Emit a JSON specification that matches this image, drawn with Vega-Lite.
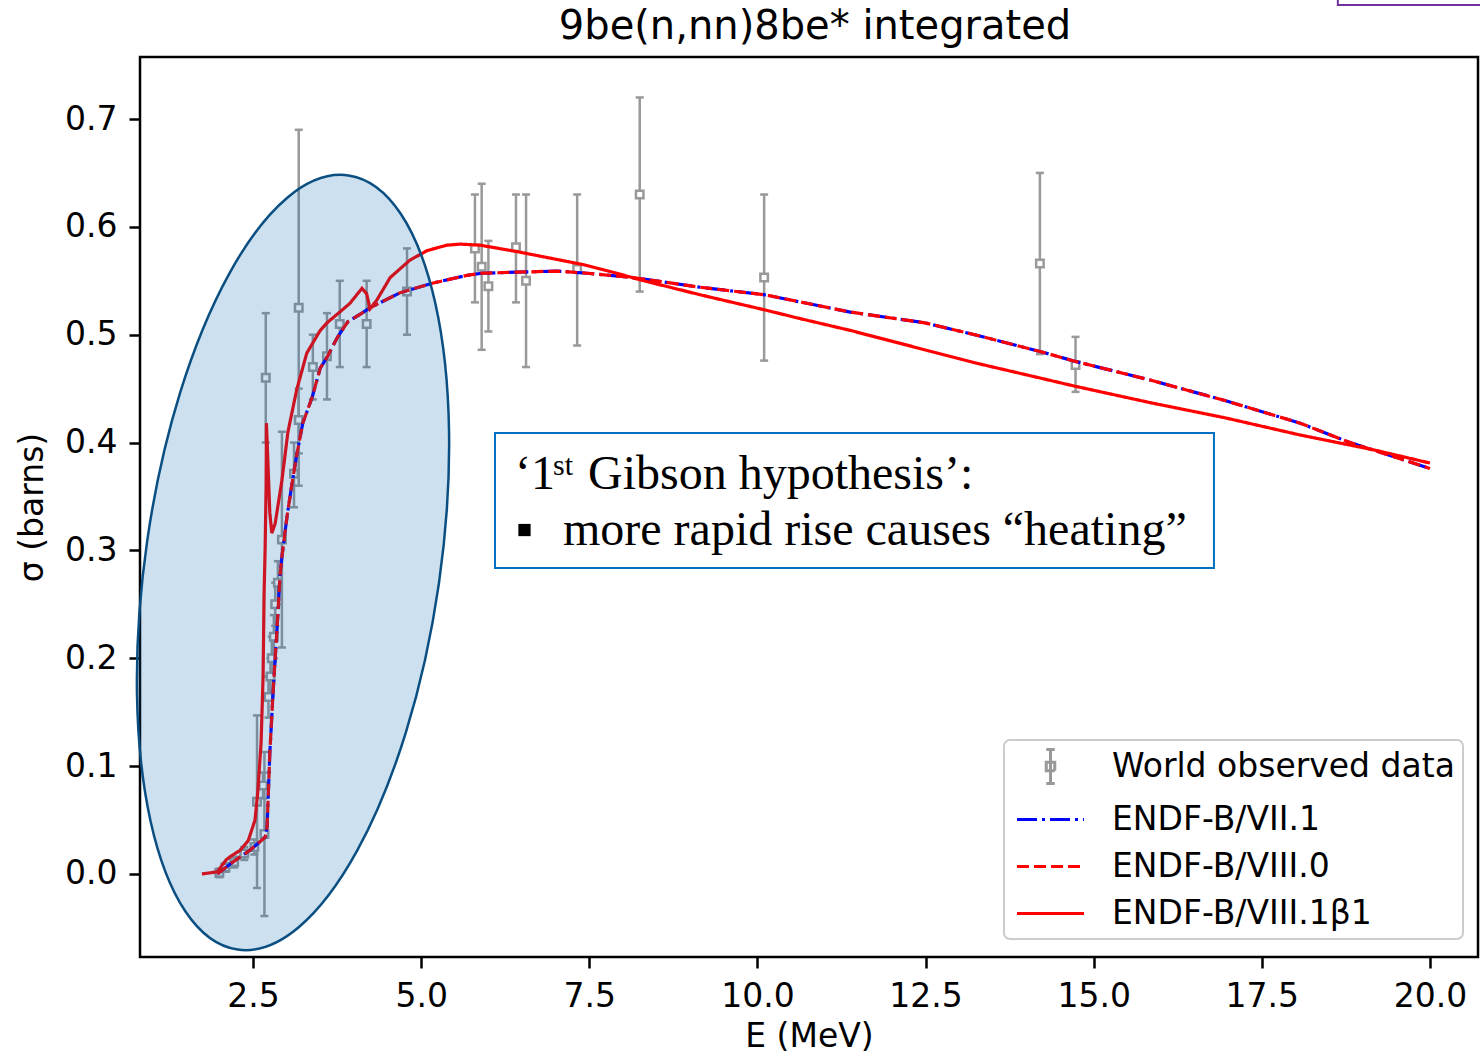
{
  "$schema": "https://vega.github.io/schema/vega-lite/v6.json",
  "width": 1338,
  "height": 900,
  "autosize": {"type": "none"},
  "padding": {"left": 140, "top": 57, "right": 2, "bottom": 98},
  "background": "white",
  "title": {"text": "9be(n,nn)8be* integrated", "font": "DejaVu Sans", "fontSize": 40, "fontWeight": "normal", "color": "black", "baseline": "alphabetic", "offset": -85, "dx": 6},
  "config": {
    "font": "DejaVu Sans",
    "view": {"stroke": "black", "strokeWidth": 2.5},
    "axis": {"domain": false, "grid": false, "ticks": true, "tickColor": "black", "tickWidth": 2.5, "tickSize": 11, "labelFont": "DejaVu Sans", "labelFontSize": 33, "labelColor": "black", "labelPadding": 12, "titleFont": "DejaVu Sans", "titleFontSize": 33, "titleFontWeight": "normal", "titleColor": "black"}
  },
  "datasets": {
    "obs": [
      {"E": 2.00, "s": 0.001, "lo": -0.003, "hi": 0.005},
      {"E": 2.09, "s": 0.006, "lo": 0.002, "hi": 0.010},
      {"E": 2.22, "s": 0.011, "lo": 0.006, "hi": 0.016},
      {"E": 2.37, "s": 0.019, "lo": 0.013, "hi": 0.025},
      {"E": 2.52, "s": 0.025, "lo": 0.018, "hi": 0.032},
      {"E": 2.56, "s": 0.067, "lo": -0.013, "hi": 0.147},
      {"E": 2.65, "s": 0.082, "lo": 0.070, "hi": 0.094},
      {"E": 2.67, "s": 0.037, "lo": -0.039, "hi": 0.113},
      {"E": 2.69, "s": 0.46, "lo": 0.40, "hi": 0.52},
      {"E": 2.73, "s": 0.164, "lo": 0.145, "hi": 0.183},
      {"E": 2.76, "s": 0.183, "lo": 0.165, "hi": 0.20},
      {"E": 2.78, "s": 0.20, "lo": 0.18, "hi": 0.22},
      {"E": 2.81, "s": 0.22, "lo": 0.20, "hi": 0.24},
      {"E": 2.83, "s": 0.25, "lo": 0.23, "hi": 0.27},
      {"E": 2.87, "s": 0.27, "lo": 0.25, "hi": 0.29},
      {"E": 2.93, "s": 0.31, "lo": 0.21, "hi": 0.41},
      {"E": 3.11, "s": 0.371, "lo": 0.34, "hi": 0.40},
      {"E": 3.18, "s": 0.421, "lo": 0.39, "hi": 0.45},
      {"E": 3.18, "s": 0.525, "lo": 0.36, "hi": 0.69},
      {"E": 3.39, "s": 0.47, "lo": 0.44, "hi": 0.50},
      {"E": 3.60, "s": 0.48, "lo": 0.44, "hi": 0.52},
      {"E": 3.79, "s": 0.51, "lo": 0.47, "hi": 0.55},
      {"E": 4.19, "s": 0.51, "lo": 0.47, "hi": 0.55},
      {"E": 4.79, "s": 0.54, "lo": 0.50, "hi": 0.58},
      {"E": 5.80, "s": 0.58, "lo": 0.53, "hi": 0.63},
      {"E": 5.90, "s": 0.563, "lo": 0.486, "hi": 0.64},
      {"E": 6.00, "s": 0.545, "lo": 0.503, "hi": 0.587},
      {"E": 6.41, "s": 0.581, "lo": 0.53, "hi": 0.63},
      {"E": 6.56, "s": 0.55, "lo": 0.47, "hi": 0.63},
      {"E": 7.32, "s": 0.561, "lo": 0.49, "hi": 0.63},
      {"E": 8.25, "s": 0.63, "lo": 0.54, "hi": 0.72},
      {"E": 10.10, "s": 0.553, "lo": 0.476, "hi": 0.63},
      {"E": 14.20, "s": 0.566, "lo": 0.482, "hi": 0.65},
      {"E": 14.73, "s": 0.472, "lo": 0.447, "hi": 0.498}
    ],
    "curves": [
      {"series": "ENDF-B/VII.1", "E": 1.97, "s": 0.0},
      {"series": "ENDF-B/VII.1", "E": 2.20, "s": 0.011},
      {"series": "ENDF-B/VII.1", "E": 2.455, "s": 0.022},
      {"series": "ENDF-B/VII.1", "E": 2.68, "s": 0.034},
      {"series": "ENDF-B/VII.1", "E": 2.71, "s": 0.044},
      {"series": "ENDF-B/VII.1", "E": 2.75, "s": 0.112},
      {"series": "ENDF-B/VII.1", "E": 2.80, "s": 0.17},
      {"series": "ENDF-B/VII.1", "E": 2.86, "s": 0.23},
      {"series": "ENDF-B/VII.1", "E": 2.90, "s": 0.275},
      {"series": "ENDF-B/VII.1", "E": 2.93, "s": 0.294},
      {"series": "ENDF-B/VII.1", "E": 3.005, "s": 0.331},
      {"series": "ENDF-B/VII.1", "E": 3.08, "s": 0.362},
      {"series": "ENDF-B/VII.1", "E": 3.155, "s": 0.39},
      {"series": "ENDF-B/VII.1", "E": 3.24, "s": 0.418},
      {"series": "ENDF-B/VII.1", "E": 3.38, "s": 0.442},
      {"series": "ENDF-B/VII.1", "E": 3.50, "s": 0.469},
      {"series": "ENDF-B/VII.1", "E": 3.60, "s": 0.479},
      {"series": "ENDF-B/VII.1", "E": 3.76, "s": 0.498},
      {"series": "ENDF-B/VII.1", "E": 3.91, "s": 0.512},
      {"series": "ENDF-B/VII.1", "E": 4.12, "s": 0.52},
      {"series": "ENDF-B/VII.1", "E": 4.24, "s": 0.525},
      {"series": "ENDF-B/VII.1", "E": 4.69, "s": 0.539},
      {"series": "ENDF-B/VII.1", "E": 5.18, "s": 0.548},
      {"series": "ENDF-B/VII.1", "E": 5.68, "s": 0.555},
      {"series": "ENDF-B/VII.1", "E": 5.90, "s": 0.557},
      {"series": "ENDF-B/VII.1", "E": 6.43, "s": 0.558},
      {"series": "ENDF-B/VII.1", "E": 7.02, "s": 0.559},
      {"series": "ENDF-B/VII.1", "E": 7.47, "s": 0.557},
      {"series": "ENDF-B/VII.1", "E": 8.15, "s": 0.553},
      {"series": "ENDF-B/VII.1", "E": 9.15, "s": 0.544},
      {"series": "ENDF-B/VII.1", "E": 10.11, "s": 0.537},
      {"series": "ENDF-B/VII.1", "E": 11.38, "s": 0.521},
      {"series": "ENDF-B/VII.1", "E": 12.49, "s": 0.511},
      {"series": "ENDF-B/VII.1", "E": 13.23, "s": 0.500},
      {"series": "ENDF-B/VII.1", "E": 14.23, "s": 0.484},
      {"series": "ENDF-B/VII.1", "E": 14.74, "s": 0.475},
      {"series": "ENDF-B/VII.1", "E": 15.84, "s": 0.458},
      {"series": "ENDF-B/VII.1", "E": 16.95, "s": 0.439},
      {"series": "ENDF-B/VII.1", "E": 18.07, "s": 0.418},
      {"series": "ENDF-B/VII.1", "E": 18.81, "s": 0.40},
      {"series": "ENDF-B/VII.1", "E": 20.0, "s": 0.376},
      {"series": "ENDF-B/VIII.0", "E": 1.97, "s": 0.0},
      {"series": "ENDF-B/VIII.0", "E": 2.20, "s": 0.011},
      {"series": "ENDF-B/VIII.0", "E": 2.455, "s": 0.022},
      {"series": "ENDF-B/VIII.0", "E": 2.68, "s": 0.034},
      {"series": "ENDF-B/VIII.0", "E": 2.71, "s": 0.044},
      {"series": "ENDF-B/VIII.0", "E": 2.75, "s": 0.112},
      {"series": "ENDF-B/VIII.0", "E": 2.80, "s": 0.17},
      {"series": "ENDF-B/VIII.0", "E": 2.86, "s": 0.23},
      {"series": "ENDF-B/VIII.0", "E": 2.90, "s": 0.275},
      {"series": "ENDF-B/VIII.0", "E": 2.93, "s": 0.294},
      {"series": "ENDF-B/VIII.0", "E": 3.005, "s": 0.331},
      {"series": "ENDF-B/VIII.0", "E": 3.08, "s": 0.362},
      {"series": "ENDF-B/VIII.0", "E": 3.155, "s": 0.39},
      {"series": "ENDF-B/VIII.0", "E": 3.24, "s": 0.418},
      {"series": "ENDF-B/VIII.0", "E": 3.38, "s": 0.442},
      {"series": "ENDF-B/VIII.0", "E": 3.50, "s": 0.469},
      {"series": "ENDF-B/VIII.0", "E": 3.60, "s": 0.479},
      {"series": "ENDF-B/VIII.0", "E": 3.76, "s": 0.498},
      {"series": "ENDF-B/VIII.0", "E": 3.91, "s": 0.512},
      {"series": "ENDF-B/VIII.0", "E": 4.12, "s": 0.52},
      {"series": "ENDF-B/VIII.0", "E": 4.24, "s": 0.525},
      {"series": "ENDF-B/VIII.0", "E": 4.69, "s": 0.539},
      {"series": "ENDF-B/VIII.0", "E": 5.18, "s": 0.548},
      {"series": "ENDF-B/VIII.0", "E": 5.68, "s": 0.555},
      {"series": "ENDF-B/VIII.0", "E": 5.90, "s": 0.557},
      {"series": "ENDF-B/VIII.0", "E": 6.43, "s": 0.558},
      {"series": "ENDF-B/VIII.0", "E": 7.02, "s": 0.559},
      {"series": "ENDF-B/VIII.0", "E": 7.47, "s": 0.557},
      {"series": "ENDF-B/VIII.0", "E": 8.15, "s": 0.553},
      {"series": "ENDF-B/VIII.0", "E": 9.15, "s": 0.544},
      {"series": "ENDF-B/VIII.0", "E": 10.11, "s": 0.537},
      {"series": "ENDF-B/VIII.0", "E": 11.38, "s": 0.521},
      {"series": "ENDF-B/VIII.0", "E": 12.49, "s": 0.511},
      {"series": "ENDF-B/VIII.0", "E": 13.23, "s": 0.500},
      {"series": "ENDF-B/VIII.0", "E": 14.23, "s": 0.484},
      {"series": "ENDF-B/VIII.0", "E": 14.74, "s": 0.475},
      {"series": "ENDF-B/VIII.0", "E": 15.84, "s": 0.458},
      {"series": "ENDF-B/VIII.0", "E": 16.95, "s": 0.439},
      {"series": "ENDF-B/VIII.0", "E": 18.07, "s": 0.418},
      {"series": "ENDF-B/VIII.0", "E": 18.81, "s": 0.40},
      {"series": "ENDF-B/VIII.0", "E": 20.0, "s": 0.376},
      {"series": "ENDF-B/VIII.1β1", "E": 1.74, "s": 0.0},
      {"series": "ENDF-B/VIII.1β1", "E": 1.97, "s": 0.002},
      {"series": "ENDF-B/VIII.1β1", "E": 2.04, "s": 0.008},
      {"series": "ENDF-B/VIII.1β1", "E": 2.10, "s": 0.013},
      {"series": "ENDF-B/VIII.1β1", "E": 2.16, "s": 0.016},
      {"series": "ENDF-B/VIII.1β1", "E": 2.31, "s": 0.022},
      {"series": "ENDF-B/VIII.1β1", "E": 2.43, "s": 0.031},
      {"series": "ENDF-B/VIII.1β1", "E": 2.53, "s": 0.050},
      {"series": "ENDF-B/VIII.1β1", "E": 2.57, "s": 0.075},
      {"series": "ENDF-B/VIII.1β1", "E": 2.62, "s": 0.121},
      {"series": "ENDF-B/VIII.1β1", "E": 2.65, "s": 0.183},
      {"series": "ENDF-B/VIII.1β1", "E": 2.665, "s": 0.26},
      {"series": "ENDF-B/VIII.1β1", "E": 2.68, "s": 0.30},
      {"series": "ENDF-B/VIII.1β1", "E": 2.695, "s": 0.36},
      {"series": "ENDF-B/VIII.1β1", "E": 2.70, "s": 0.418},
      {"series": "ENDF-B/VIII.1β1", "E": 2.72, "s": 0.385},
      {"series": "ENDF-B/VIII.1β1", "E": 2.75, "s": 0.335},
      {"series": "ENDF-B/VIII.1β1", "E": 2.78, "s": 0.316},
      {"series": "ENDF-B/VIII.1β1", "E": 2.83, "s": 0.325},
      {"series": "ENDF-B/VIII.1β1", "E": 2.93, "s": 0.365},
      {"series": "ENDF-B/VIII.1β1", "E": 3.02, "s": 0.41},
      {"series": "ENDF-B/VIII.1β1", "E": 3.15, "s": 0.449},
      {"series": "ENDF-B/VIII.1β1", "E": 3.30, "s": 0.483},
      {"series": "ENDF-B/VIII.1β1", "E": 3.50, "s": 0.504},
      {"series": "ENDF-B/VIII.1β1", "E": 3.60, "s": 0.511},
      {"series": "ENDF-B/VIII.1β1", "E": 3.79, "s": 0.521},
      {"series": "ENDF-B/VIII.1β1", "E": 3.94, "s": 0.529},
      {"series": "ENDF-B/VIII.1β1", "E": 4.12, "s": 0.543},
      {"series": "ENDF-B/VIII.1β1", "E": 4.19, "s": 0.538},
      {"series": "ENDF-B/VIII.1β1", "E": 4.24, "s": 0.524},
      {"series": "ENDF-B/VIII.1β1", "E": 4.34, "s": 0.532},
      {"series": "ENDF-B/VIII.1β1", "E": 4.54, "s": 0.553},
      {"series": "ENDF-B/VIII.1β1", "E": 4.83, "s": 0.569},
      {"series": "ENDF-B/VIII.1β1", "E": 5.09, "s": 0.578},
      {"series": "ENDF-B/VIII.1β1", "E": 5.38, "s": 0.583},
      {"series": "ENDF-B/VIII.1β1", "E": 5.58, "s": 0.584},
      {"series": "ENDF-B/VIII.1β1", "E": 5.88, "s": 0.583},
      {"series": "ENDF-B/VIII.1β1", "E": 6.43, "s": 0.577},
      {"series": "ENDF-B/VIII.1β1", "E": 6.92, "s": 0.571},
      {"series": "ENDF-B/VIII.1β1", "E": 7.41, "s": 0.565},
      {"series": "ENDF-B/VIII.1β1", "E": 7.91, "s": 0.557},
      {"series": "ENDF-B/VIII.1β1", "E": 8.25, "s": 0.551},
      {"series": "ENDF-B/VIII.1β1", "E": 9.15, "s": 0.537},
      {"series": "ENDF-B/VIII.1β1", "E": 10.11, "s": 0.523},
      {"series": "ENDF-B/VIII.1β1", "E": 10.63, "s": 0.515},
      {"series": "ENDF-B/VIII.1β1", "E": 11.38, "s": 0.504},
      {"series": "ENDF-B/VIII.1β1", "E": 13.23, "s": 0.474},
      {"series": "ENDF-B/VIII.1β1", "E": 14.74, "s": 0.452},
      {"series": "ENDF-B/VIII.1β1", "E": 15.84, "s": 0.437},
      {"series": "ENDF-B/VIII.1β1", "E": 16.95, "s": 0.423},
      {"series": "ENDF-B/VIII.1β1", "E": 18.07, "s": 0.407},
      {"series": "ENDF-B/VIII.1β1", "E": 19.18, "s": 0.393},
      {"series": "ENDF-B/VIII.1β1", "E": 20.0, "s": 0.381}
    ]
  },
  "layer": [
    {
      "data": {"name": "obs"},
      "mark": {"type": "rule", "color": "#999999", "strokeWidth": 2.5},
      "encoding": {
        "x": {"field": "E", "type": "quantitative", "scale": {"domain": [0.82, 20.714], "nice": false, "zero": false}, "axis": {"values": [2.5, 5, 7.5, 10, 12.5, 15, 17.5, 20], "format": ".1f", "title": "E (MeV)", "titlePadding": 7}},
        "y": {"field": "lo", "type": "quantitative", "scale": {"domain": [-0.077, 0.7575], "nice": false, "zero": false}, "axis": {"values": [0, 0.1, 0.2, 0.3, 0.4, 0.5, 0.6, 0.7], "format": ".1f", "title": "σ (barns)", "titlePadding": 15}},
        "y2": {"field": "hi"}
      }
    },
    {
      "data": {"name": "obs"},
      "mark": {"type": "tick", "orient": "horizontal", "size": 8, "thickness": 2.5, "color": "#999999", "opacity": 1},
      "encoding": {
        "x": {"field": "E", "type": "quantitative", "scale": {"domain": [0.82, 20.714], "nice": false, "zero": false}, "axis": {"values": [2.5, 5, 7.5, 10, 12.5, 15, 17.5, 20], "format": ".1f", "title": "E (MeV)", "titlePadding": 7}},
        "y": {"field": "lo", "type": "quantitative", "scale": {"domain": [-0.077, 0.7575], "nice": false, "zero": false}, "axis": {"values": [0, 0.1, 0.2, 0.3, 0.4, 0.5, 0.6, 0.7], "format": ".1f", "title": "σ (barns)", "titlePadding": 15}}
      }
    },
    {
      "data": {"name": "obs"},
      "mark": {"type": "tick", "orient": "horizontal", "size": 8, "thickness": 2.5, "color": "#999999", "opacity": 1},
      "encoding": {
        "x": {"field": "E", "type": "quantitative", "scale": {"domain": [0.82, 20.714], "nice": false, "zero": false}, "axis": {"values": [2.5, 5, 7.5, 10, 12.5, 15, 17.5, 20], "format": ".1f", "title": "E (MeV)", "titlePadding": 7}},
        "y": {"field": "hi", "type": "quantitative", "scale": {"domain": [-0.077, 0.7575], "nice": false, "zero": false}, "axis": {"values": [0, 0.1, 0.2, 0.3, 0.4, 0.5, 0.6, 0.7], "format": ".1f", "title": "σ (barns)", "titlePadding": 15}}
      }
    },
    {
      "data": {"name": "obs"},
      "mark": {"type": "point", "shape": "square", "size": 56, "filled": true, "fill": "white", "stroke": "#999999", "strokeWidth": 2.5, "opacity": 1},
      "encoding": {
        "x": {"field": "E", "type": "quantitative", "scale": {"domain": [0.82, 20.714], "nice": false, "zero": false}, "axis": {"values": [2.5, 5, 7.5, 10, 12.5, 15, 17.5, 20], "format": ".1f", "title": "E (MeV)", "titlePadding": 7}},
        "y": {"field": "s", "type": "quantitative", "scale": {"domain": [-0.077, 0.7575], "nice": false, "zero": false}, "axis": {"values": [0, 0.1, 0.2, 0.3, 0.4, 0.5, 0.6, 0.7], "format": ".1f", "title": "σ (barns)", "titlePadding": 15}}
      }
    },
    {
      "data": {"name": "curves"},
      "transform": [{"filter": "datum.series === 'ENDF-B/VII.1'"}],
      "mark": {"type": "line", "strokeWidth": 3.2},
      "encoding": {
        "x": {"field": "E", "type": "quantitative", "scale": {"domain": [0.82, 20.714], "nice": false, "zero": false}, "axis": {"values": [2.5, 5, 7.5, 10, 12.5, 15, 17.5, 20], "format": ".1f", "title": "E (MeV)", "titlePadding": 7}},
        "y": {"field": "s", "type": "quantitative", "scale": {"domain": [-0.077, 0.7575], "nice": false, "zero": false}, "axis": {"values": [0, 0.1, 0.2, 0.3, 0.4, 0.5, 0.6, 0.7], "format": ".1f", "title": "σ (barns)", "titlePadding": 15}},
        "color": {"field": "series", "type": "nominal", "scale": {"domain": ["World observed data", "ENDF-B/VII.1", "ENDF-B/VIII.0", "ENDF-B/VIII.1β1"], "range": ["#999999", "#0000ff", "#ff0000", "#ff0000"]},
          "legend": {"title": null, "orient": "none", "legendX": 864, "legendY": 683, "padding": 8, "strokeColor": "#cccccc", "fillColor": "rgba(255,255,255,0.8)", "cornerRadius": 6, "labelFont": "DejaVu Sans", "labelFontSize": 33, "labelColor": "black", "labelLimit": 600, "labelOffset": 43, "symbolOffset": 20, "symbolSize": 1156, "symbolStrokeWidth": 3, "symbolType": "M-1.97,0H1.97", "rowPadding": 11,
            "encode": {"legend": {"update": {"strokeWidth": {"value": 2}}}, "symbols": {"update": {"shape": {"signal": "datum.value === 'World observed data' ? 'M0,-1V1M-0.25,-1H0.25M-0.25,1H0.25M-0.25,-0.25H0.25V0.25H-0.25Z' : 'M-1.97,0H1.97'"}}}}}},
        "strokeDash": {"field": "series", "type": "nominal", "scale": {"domain": ["World observed data", "ENDF-B/VII.1", "ENDF-B/VIII.0", "ENDF-B/VIII.1β1"], "range": [[1, 0], [20, 5, 3, 5], [12, 5], [1, 0]]}}
      }
    },
    {
      "data": {"name": "curves"},
      "transform": [{"filter": "datum.series === 'ENDF-B/VIII.0'"}],
      "mark": {"type": "line", "strokeWidth": 3.2},
      "encoding": {
        "x": {"field": "E", "type": "quantitative", "scale": {"domain": [0.82, 20.714], "nice": false, "zero": false}, "axis": {"values": [2.5, 5, 7.5, 10, 12.5, 15, 17.5, 20], "format": ".1f", "title": "E (MeV)", "titlePadding": 7}},
        "y": {"field": "s", "type": "quantitative", "scale": {"domain": [-0.077, 0.7575], "nice": false, "zero": false}, "axis": {"values": [0, 0.1, 0.2, 0.3, 0.4, 0.5, 0.6, 0.7], "format": ".1f", "title": "σ (barns)", "titlePadding": 15}},
        "color": {"field": "series", "type": "nominal", "scale": {"domain": ["World observed data", "ENDF-B/VII.1", "ENDF-B/VIII.0", "ENDF-B/VIII.1β1"], "range": ["#999999", "#0000ff", "#ff0000", "#ff0000"]}},
        "strokeDash": {"field": "series", "type": "nominal", "scale": {"domain": ["World observed data", "ENDF-B/VII.1", "ENDF-B/VIII.0", "ENDF-B/VIII.1β1"], "range": [[1, 0], [20, 5, 3, 5], [12, 5], [1, 0]]}}
      }
    },
    {
      "data": {"name": "curves"},
      "transform": [{"filter": "datum.series === 'ENDF-B/VIII.1β1'"}],
      "mark": {"type": "line", "strokeWidth": 3.2},
      "encoding": {
        "x": {"field": "E", "type": "quantitative", "scale": {"domain": [0.82, 20.714], "nice": false, "zero": false}, "axis": {"values": [2.5, 5, 7.5, 10, 12.5, 15, 17.5, 20], "format": ".1f", "title": "E (MeV)", "titlePadding": 7}},
        "y": {"field": "s", "type": "quantitative", "scale": {"domain": [-0.077, 0.7575], "nice": false, "zero": false}, "axis": {"values": [0, 0.1, 0.2, 0.3, 0.4, 0.5, 0.6, 0.7], "format": ".1f", "title": "σ (barns)", "titlePadding": 15}},
        "color": {"field": "series", "type": "nominal", "scale": {"domain": ["World observed data", "ENDF-B/VII.1", "ENDF-B/VIII.0", "ENDF-B/VIII.1β1"], "range": ["#999999", "#0000ff", "#ff0000", "#ff0000"]}},
        "strokeDash": {"field": "series", "type": "nominal", "scale": {"domain": ["World observed data", "ENDF-B/VII.1", "ENDF-B/VIII.0", "ENDF-B/VIII.1β1"], "range": [[1, 0], [20, 5, 3, 5], [12, 5], [1, 0]]}}
      }
    },
    {
      "data": {"values": [{"E": 3.095, "s": 0.2888}]},
      "mark": {"type": "point", "shape": "M0,-1A0.377,1,0,1,1,0,1A0.377,1,0,1,1,0,-1Z", "size": 611524, "angle": 8.15, "filled": true, "fill": "#0064af", "fillOpacity": 0.2, "stroke": "#0b4f82", "strokeWidth": 2.5, "strokeOpacity": 1, "opacity": 1},
      "encoding": {
        "x": {"field": "E", "type": "quantitative", "scale": {"domain": [0.82, 20.714], "nice": false, "zero": false}, "axis": {"values": [2.5, 5, 7.5, 10, 12.5, 15, 17.5, 20], "format": ".1f", "title": "E (MeV)", "titlePadding": 7}},
        "y": {"field": "s", "type": "quantitative", "scale": {"domain": [-0.077, 0.7575], "nice": false, "zero": false}, "axis": {"values": [0, 0.1, 0.2, 0.3, 0.4, 0.5, 0.6, 0.7], "format": ".1f", "title": "σ (barns)", "titlePadding": 15}}
      }
    },
    {
      "data": {"values": [{"x1": 6.098, "x2": 16.788, "y1": 0.4089, "y2": 0.2837}]},
      "mark": {"type": "rect", "fill": "white", "stroke": "#0070c0", "strokeWidth": 2},
      "encoding": {
        "x": {"field": "x1", "type": "quantitative", "scale": {"domain": [0.82, 20.714], "nice": false, "zero": false}, "axis": {"values": [2.5, 5, 7.5, 10, 12.5, 15, 17.5, 20], "format": ".1f", "title": "E (MeV)", "titlePadding": 7}},
        "x2": {"field": "x2"},
        "y": {"field": "y1", "type": "quantitative", "scale": {"domain": [-0.077, 0.7575], "nice": false, "zero": false}, "axis": {"values": [0, 0.1, 0.2, 0.3, 0.4, 0.5, 0.6, 0.7], "format": ".1f", "title": "σ (barns)", "titlePadding": 15}},
        "y2": {"field": "y2"}
      }
    },
    {
      "data": {"values": [{"E": 6.3955, "s": 0.357, "label": "‘1"}]},
      "mark": {"type": "text", "font": "Liberation Serif", "fontSize": 48, "align": "left", "baseline": "alphabetic", "color": "black"},
      "encoding": {
        "x": {"field": "E", "type": "quantitative", "scale": {"domain": [0.82, 20.714], "nice": false, "zero": false}, "axis": {"values": [2.5, 5, 7.5, 10, 12.5, 15, 17.5, 20], "format": ".1f", "title": "E (MeV)", "titlePadding": 7}},
        "y": {"field": "s", "type": "quantitative", "scale": {"domain": [-0.077, 0.7575], "nice": false, "zero": false}, "axis": {"values": [0, 0.1, 0.2, 0.3, 0.4, 0.5, 0.6, 0.7], "format": ".1f", "title": "σ (barns)", "titlePadding": 15}},
        "text": {"field": "label"}
      }
    },
    {
      "data": {"values": [{"E": 6.9605, "s": 0.3699, "label": "st"}]},
      "mark": {"type": "text", "font": "Liberation Serif", "fontSize": 30, "align": "left", "baseline": "alphabetic", "color": "black"},
      "encoding": {
        "x": {"field": "E", "type": "quantitative", "scale": {"domain": [0.82, 20.714], "nice": false, "zero": false}, "axis": {"values": [2.5, 5, 7.5, 10, 12.5, 15, 17.5, 20], "format": ".1f", "title": "E (MeV)", "titlePadding": 7}},
        "y": {"field": "s", "type": "quantitative", "scale": {"domain": [-0.077, 0.7575], "nice": false, "zero": false}, "axis": {"values": [0, 0.1, 0.2, 0.3, 0.4, 0.5, 0.6, 0.7], "format": ".1f", "title": "σ (barns)", "titlePadding": 15}},
        "text": {"field": "label"}
      }
    },
    {
      "data": {"values": [{"E": 7.4809, "s": 0.357, "label": "Gibson hypothesis’:"}]},
      "mark": {"type": "text", "font": "Liberation Serif", "fontSize": 48, "align": "left", "baseline": "alphabetic", "color": "black"},
      "encoding": {
        "x": {"field": "E", "type": "quantitative", "scale": {"domain": [0.82, 20.714], "nice": false, "zero": false}, "axis": {"values": [2.5, 5, 7.5, 10, 12.5, 15, 17.5, 20], "format": ".1f", "title": "E (MeV)", "titlePadding": 7}},
        "y": {"field": "s", "type": "quantitative", "scale": {"domain": [-0.077, 0.7575], "nice": false, "zero": false}, "axis": {"values": [0, 0.1, 0.2, 0.3, 0.4, 0.5, 0.6, 0.7], "format": ".1f", "title": "σ (barns)", "titlePadding": 15}},
        "text": {"field": "label"}
      }
    },
    {
      "data": {"values": [{"E": 6.5368, "s": 0.3189}]},
      "mark": {"type": "point", "shape": "square", "size": 150, "filled": true, "color": "black", "opacity": 1},
      "encoding": {
        "x": {"field": "E", "type": "quantitative", "scale": {"domain": [0.82, 20.714], "nice": false, "zero": false}, "axis": {"values": [2.5, 5, 7.5, 10, 12.5, 15, 17.5, 20], "format": ".1f", "title": "E (MeV)", "titlePadding": 7}},
        "y": {"field": "s", "type": "quantitative", "scale": {"domain": [-0.077, 0.7575], "nice": false, "zero": false}, "axis": {"values": [0, 0.1, 0.2, 0.3, 0.4, 0.5, 0.6, 0.7], "format": ".1f", "title": "σ (barns)", "titlePadding": 15}}
      }
    },
    {
      "data": {"values": [{"E": 7.1092, "s": 0.305, "label": "more rapid rise causes “heating”"}]},
      "mark": {"type": "text", "font": "Liberation Serif", "fontSize": 48, "align": "left", "baseline": "alphabetic", "color": "black"},
      "encoding": {
        "x": {"field": "E", "type": "quantitative", "scale": {"domain": [0.82, 20.714], "nice": false, "zero": false}, "axis": {"values": [2.5, 5, 7.5, 10, 12.5, 15, 17.5, 20], "format": ".1f", "title": "E (MeV)", "titlePadding": 7}},
        "y": {"field": "s", "type": "quantitative", "scale": {"domain": [-0.077, 0.7575], "nice": false, "zero": false}, "axis": {"values": [0, 0.1, 0.2, 0.3, 0.4, 0.5, 0.6, 0.7], "format": ".1f", "title": "σ (barns)", "titlePadding": 15}},
        "text": {"field": "label"}
      }
    },
    {
      "data": {"values": [{"x1": 18.63, "x2": 21.5, "y1": 0.8057, "y2": 0.815}]},
      "mark": {"type": "rect", "fill": null, "fillOpacity": 0, "stroke": "#7030a0", "strokeWidth": 2},
      "encoding": {
        "x": {"field": "x1", "type": "quantitative", "scale": {"domain": [0.82, 20.714], "nice": false, "zero": false}, "axis": {"values": [2.5, 5, 7.5, 10, 12.5, 15, 17.5, 20], "format": ".1f", "title": "E (MeV)", "titlePadding": 7}},
        "x2": {"field": "x2"},
        "y": {"field": "y1", "type": "quantitative", "scale": {"domain": [-0.077, 0.7575], "nice": false, "zero": false}, "axis": {"values": [0, 0.1, 0.2, 0.3, 0.4, 0.5, 0.6, 0.7], "format": ".1f", "title": "σ (barns)", "titlePadding": 15}},
        "y2": {"field": "y2"}
      }
    }
  ]
}
